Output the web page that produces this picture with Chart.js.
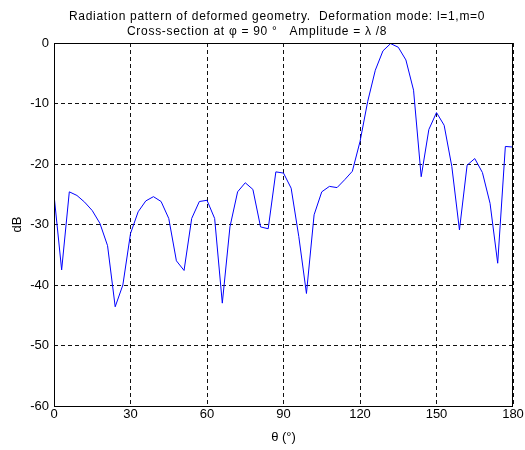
<!DOCTYPE html>
<html>
<head>
<meta charset="utf-8">
<script src="https://cdn.jsdelivr.net/npm/chart.js@4/dist/chart.umd.min.js"></script>
<style>
  body { margin: 0; background: #fff; }
  #wrap { width: 525px; height: 450px; }
</style>
</head>
<body>
<div id="wrap"><canvas id="mychart" width="525" height="450"></canvas></div>
<script>
// theta in degrees, sampled every 3 degrees
var theta = [0, 3, 6, 9, 12, 15, 18, 21, 24, 27, 30, 33, 36, 39, 42, 45, 48, 51, 54, 57,
  60, 63, 66, 69, 72, 75, 78, 81, 84, 87, 90, 93, 96, 99, 102, 105, 108, 111, 114, 117,
  120, 123, 126, 129, 132, 135, 138, 141, 144, 147, 150, 153, 156, 159, 162, 165, 168, 171, 174, 177, 180];
// pattern level in dB
var gainDb = [-25.1, -37.5, -24.6, -25.2, -26.3, -27.7, -29.8, -33.5, -43.6, -40.0,
  -31.5, -27.9, -26.1, -25.4, -26.2, -29.0, -36.0, -37.6, -29.0, -26.2,
  -26.0, -29.0, -43.0, -30.4, -24.6, -23.1, -24.2, -30.4, -30.7, -21.3,
  -21.5, -24.0, -32.0, -41.4, -28.4, -24.6, -23.7, -23.9, -22.6, -21.2,
  -16.3, -9.7, -4.5, -1.3, -0.1, -0.7, -2.8, -7.8, -22.1, -14.3,
  -11.5, -13.6, -20.4, -30.9, -20.2, -19.1, -21.4, -26.5, -36.4, -17.1, -17.2];
var xTicks = [0, 30, 60, 90, 120, 150, 180];
var yTicks = [-60, -50, -40, -30, -20, -10, 0];
var titleLines = ['Radiation pattern of deformed geometry.  Deformation mode: l=1,m=0',
  'Cross-section at \u03c6 = 90 \u00b0   Amplitude = \u03bb /8'];

var pts = theta.map(function (t, i) { return {x: t, y: gainDb[i]}; });
var fam = '"Liberation Sans Narrow", "Arial Narrow", Arial, sans-serif';
var fnt = {family: fam, size: 13};

// two-line title drawn above the plot box, MATLAB style
var titlePlugin = {
  id: 'mtitle',
  afterDraw: function (chart) {
    var c = chart.ctx;
    c.save();
    c.fillStyle = '#000';
    c.font = '12px Arial, "Liberation Sans", sans-serif';
    c.textAlign = 'left';
    c.textBaseline = 'alphabetic';
    c.letterSpacing = '0.7px';
    c.fillText(titleLines[0], 69, 20);
    c.fillText(titleLines[1], 127, 35);
    c.restore();
  }
};

// solid box around the axes
var boxPlugin = {
  id: 'box',
  afterDatasetsDraw: function (chart) {
    var a = chart.chartArea, c = chart.ctx;
    c.save();
    c.strokeStyle = '#000';
    c.lineWidth = 1;
    c.strokeRect(a.left + 0.5, a.top + 0.5, a.right - a.left - 1, a.bottom - a.top);
    c.restore();
  }
};

var ctx = document.getElementById('mychart').getContext('2d');
var myChart = new Chart(ctx, {
  type: 'line',
  data: {
    datasets: [{
      label: 'pattern',
      data: pts,
      borderColor: '#0000ff',
      borderWidth: 1,
      pointRadius: 0,
      tension: 0,
      fill: false
    }]
  },
  options: {
    responsive: false,
    animation: false,
    layout: {padding: {top: 43, right: 12, left: 0, bottom: 0}},
    plugins: {legend: {display: false}, tooltip: {enabled: false}, title: {display: false}},
    scales: {
      x: {
        type: 'linear',
        min: 0, max: 180,
        afterBuildTicks: function (s) { s.ticks = xTicks.map(function (v) { return {value: v}; }); },
        afterFit: function (s) { s.height = 44; s.paddingLeft = 0; s.paddingRight = 0; },
        grid: {color: '#111', lineWidth: 1, drawTicks: false},
        border: {display: false, dash: [4, 3]},
        ticks: {color: '#000', font: fnt, padding: 1, maxRotation: 0},
        title: {display: true, text: '\u03b8 (\u00b0)', color: '#000', font: fnt, padding: {top: 0, bottom: 5}}
      },
      y: {
        min: -60, max: 0,
        afterBuildTicks: function (s) { s.ticks = yTicks.map(function (v) { return {value: v}; }); },
        afterFit: function (s) { s.width = 54; s.paddingTop = 0; s.paddingBottom = 0; },
        grid: {color: '#111', lineWidth: 1, drawTicks: false},
        border: {display: false, dash: [4, 3]},
        ticks: {color: '#000', font: fnt, padding: 5},
        title: {display: true, text: 'dB', color: '#000', font: fnt, padding: {top: 10, bottom: 0}}
      }
    }
  },
  plugins: [titlePlugin, boxPlugin]
});
</script>
</body>
</html>
